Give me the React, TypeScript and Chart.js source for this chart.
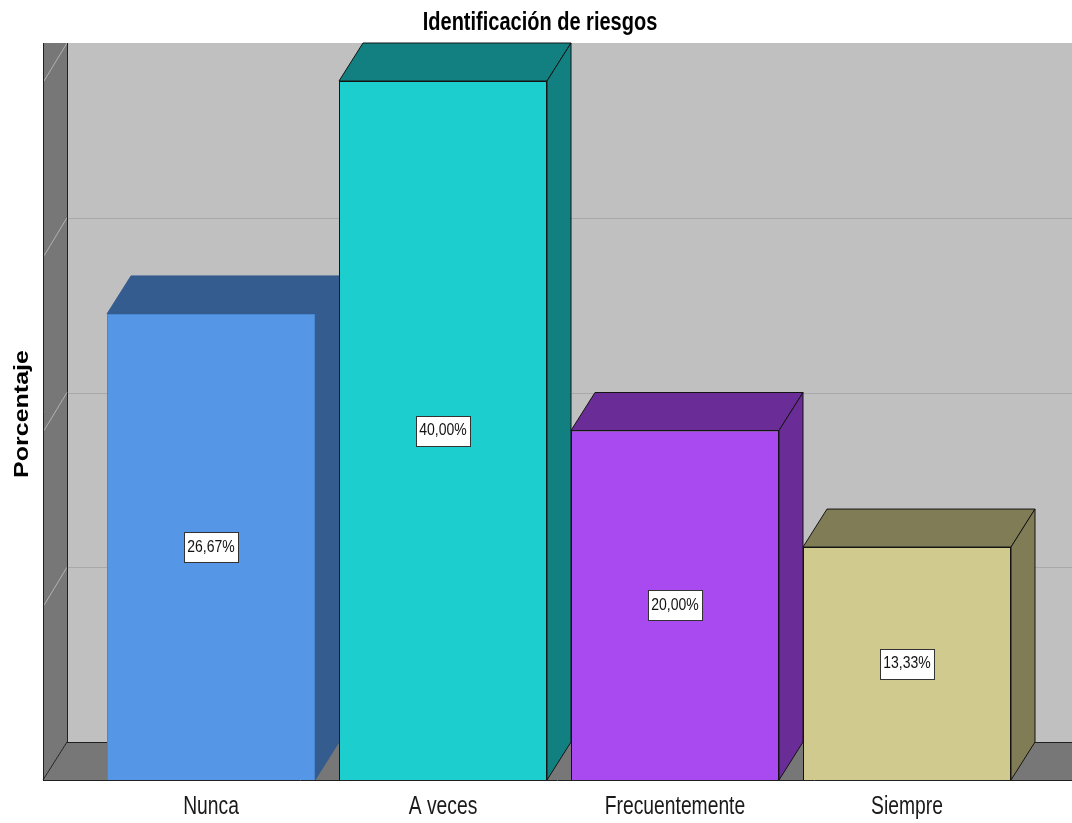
import React, { useEffect, useRef } from "react";
import { Chart, registerables } from "chart.js";

Chart.register(...registerables);

// Categories and percentages of the "Identificación de riesgos" item
const categories: string[] = ["Nunca", "A veces", "Frecuentemente", "Siempre"];
const percentages: number[] = [26.67, 40.0, 20.0, 13.33];

// Face colours for each bar: front, side/top, outline
const frontColors: string[] = ["#5596E6", "#1DCECE", "#A84AF0", "#D0CA8E"];
const sideColors: string[] = ["#345C8E", "#128080", "#6A2C96", "#807C55"];
const edgeColors: string[] = ["#4A86CF", "#141414", "#141414", "#141414"];

// Gridline values on the back wall and the axis maximum
const gridValues: number[] = [10, 20, 30, 40];
const yMax = 40;

const TITLE = "Identificación de riesgos";
const Y_TITLE = "Porcentaje";

// 3D depth offset of the chart box
const DX = 24;
const DY = 38;
const WALL_GAP = 52;

const formatPct = (v: number) => v.toFixed(2).replace(".", ",") + "%";

function stretchedText(
  ctx: CanvasRenderingContext2D,
  text: string,
  x: number,
  y: number,
  font: string,
  sx: number,
  sy: number,
  rotation = 0,
  color = "#111"
) {
  ctx.save();
  ctx.translate(x, y);
  if (rotation) ctx.rotate(rotation);
  ctx.scale(sx, sy);
  ctx.font = font;
  ctx.fillStyle = color;
  ctx.textAlign = "center";
  ctx.textBaseline = "middle";
  ctx.fillText(text, 0, 0);
  ctx.restore();
}

const box3dPlugin = {
  id: "box3d",
  beforeDraw(chart: any) {
    const { ctx, chartArea, scales } = chart;
    const { left, bottom } = chartArea;
    const y = scales.y;
    const W = chart.width;
    const wx0 = left - WALL_GAP;
    const wx1 = wx0 + DX;
    const backTop = y.getPixelForValue(yMax) - DY;
    const backBottom = bottom - DY;

    ctx.save();
    // back wall
    ctx.fillStyle = "#C0C0C0";
    ctx.fillRect(wx1, backTop, W - wx1, backBottom - backTop);
    ctx.lineWidth = 1;
    ctx.strokeStyle = "#A9A9A9";
    gridValues.forEach((v) => {
      if (v >= yMax) return;
      const py = Math.round(y.getPixelForValue(v) - DY) + 0.5;
      ctx.beginPath();
      ctx.moveTo(wx1, py);
      ctx.lineTo(W, py);
      ctx.stroke();
    });

    // left wall
    ctx.fillStyle = "#777777";
    ctx.beginPath();
    ctx.moveTo(wx0, backTop);
    ctx.lineTo(wx1, backTop);
    ctx.lineTo(wx1, backBottom);
    ctx.lineTo(wx0, bottom);
    ctx.closePath();
    ctx.fill();
    ctx.strokeStyle = "#B2B2B2";
    gridValues.forEach((v) => {
      const py = y.getPixelForValue(v);
      ctx.beginPath();
      ctx.moveTo(wx0 + 1, py);
      ctx.lineTo(wx1, py - DY);
      ctx.stroke();
    });

    // floor
    ctx.fillStyle = "#777777";
    ctx.beginPath();
    ctx.moveTo(wx0, bottom);
    ctx.lineTo(wx1, backBottom);
    ctx.lineTo(W, backBottom);
    ctx.lineTo(W, bottom);
    ctx.closePath();
    ctx.fill();

    // box edges
    ctx.strokeStyle = "#202020";
    ctx.beginPath();
    ctx.moveTo(wx1 + 0.5, backTop);
    ctx.lineTo(wx1 + 0.5, backBottom);
    ctx.moveTo(wx0 + 0.5, backTop);
    ctx.lineTo(wx0 + 0.5, bottom);
    ctx.moveTo(wx1, Math.round(backBottom) + 0.5);
    ctx.lineTo(W, Math.round(backBottom) + 0.5);
    ctx.moveTo(wx0, bottom);
    ctx.lineTo(wx1, backBottom);
    ctx.stroke();
    ctx.restore();
  },
  beforeDatasetsDraw(chart: any) {
    const { ctx } = chart;
    const meta = chart.getDatasetMeta(0);
    ctx.save();
    ctx.lineWidth = 1;
    meta.data.forEach((el: any, i: number) => {
      const { x, y: top, base, width } = el.getProps(["x", "y", "base", "width"], true);
      const l = x - width / 2;
      const r = x + width / 2;
      ctx.fillStyle = sideColors[i];
      ctx.strokeStyle = i === 0 ? sideColors[i] : edgeColors[i];
      // top face
      ctx.beginPath();
      ctx.moveTo(l, top);
      ctx.lineTo(l + DX, top - DY);
      ctx.lineTo(r + DX, top - DY);
      ctx.lineTo(r, top);
      ctx.closePath();
      ctx.fill();
      ctx.stroke();
      // side face
      ctx.beginPath();
      ctx.moveTo(r, top);
      ctx.lineTo(r + DX, top - DY);
      ctx.lineTo(r + DX, base - DY);
      ctx.lineTo(r, base);
      ctx.closePath();
      ctx.fill();
      ctx.stroke();
    });
    ctx.restore();
  },
  afterDatasetsDraw(chart: any) {
    const { ctx, chartArea } = chart;
    const W = chart.width;
    const wx0 = chartArea.left - WALL_GAP;
    // front edge of the floor
    ctx.save();
    ctx.strokeStyle = "#202020";
    ctx.lineWidth = 1;
    ctx.beginPath();
    ctx.moveTo(wx0, Math.round(chartArea.bottom) + 0.5);
    ctx.lineTo(W, Math.round(chartArea.bottom) + 0.5);
    ctx.stroke();

    // value labels
    const meta = chart.getDatasetMeta(0);
    meta.data.forEach((el: any, i: number) => {
      const { x, y: top, base } = el.getProps(["x", "y", "base"], true);
      const cy = (top + base) / 2;
      const txt = formatPct(percentages[i]);
      ctx.font = "14px 'Liberation Sans', Arial, sans-serif";
      const tw = ctx.measureText(txt).width;
      const bw = Math.round(tw + 7);
      const bh = 30;
      const bx = Math.round(x - bw / 2) + 0.5;
      const by = Math.round(cy - bh / 2) + 0.5;
      ctx.fillStyle = "#FFFFFF";
      ctx.fillRect(bx, by, bw, bh);
      ctx.strokeStyle = "#333333";
      ctx.strokeRect(bx, by, bw, bh);
      stretchedText(ctx, txt, x, cy, "14px 'Liberation Sans', Arial, sans-serif", 1, 1.2);
    });
    ctx.restore();
  },
  afterDraw(chart: any) {
    const { ctx, scales, chartArea } = chart;
    const xs = scales.x;
    // chart title
    stretchedText(ctx, TITLE, chart.width / 2 + 4, 23, "bold 20px 'Liberation Sans', Arial, sans-serif", 1, 1.3, 0, "#000");
    // category labels
    categories.forEach((c, i) => {
      stretchedText(ctx, c, xs.getPixelForValue(i), chartArea.bottom + 27, "19.3px 'Liberation Sans', Arial, sans-serif", 1, 1.38, 0, "#1a1a1a");
    });
    // y axis title
    stretchedText(ctx, Y_TITLE, 22, 414, "bold 21px 'Liberation Sans', Arial, sans-serif", 1.19, 1, -Math.PI / 2, "#000");
  },
};

export default function App() {
  const canvasRef = useRef<HTMLCanvasElement | null>(null);

  useEffect(() => {
    if (!canvasRef.current) return;
    const chart = new Chart(canvasRef.current, {
      type: "bar",
      data: {
        labels: categories,
        datasets: [
          {
            data: percentages,
            backgroundColor: frontColors,
            borderColor: edgeColors,
            borderWidth: 1,
            categoryPercentage: 1,
            barPercentage: 208 / 232,
          },
        ],
      },
      options: {
        responsive: false,
        animation: false,
        layout: { padding: { left: 95, right: 49, top: 81, bottom: 43 } },
        plugins: {
          legend: { display: false },
          tooltip: { enabled: false },
          title: { display: false },
        },
        scales: {
          x: { display: false, offset: true, grid: { display: false } },
          y: { display: false, min: 0, max: yMax },
        },
      },
      plugins: [box3dPlugin],
    });
    return () => chart.destroy();
  }, []);

  return (
    <div style={{ position: "absolute", left: 0, top: 0, width: 1072, height: 823, background: "#fff" }}>
      <canvas ref={canvasRef} width={1072} height={823} style={{ display: "block" }} />
    </div>
  );
}
